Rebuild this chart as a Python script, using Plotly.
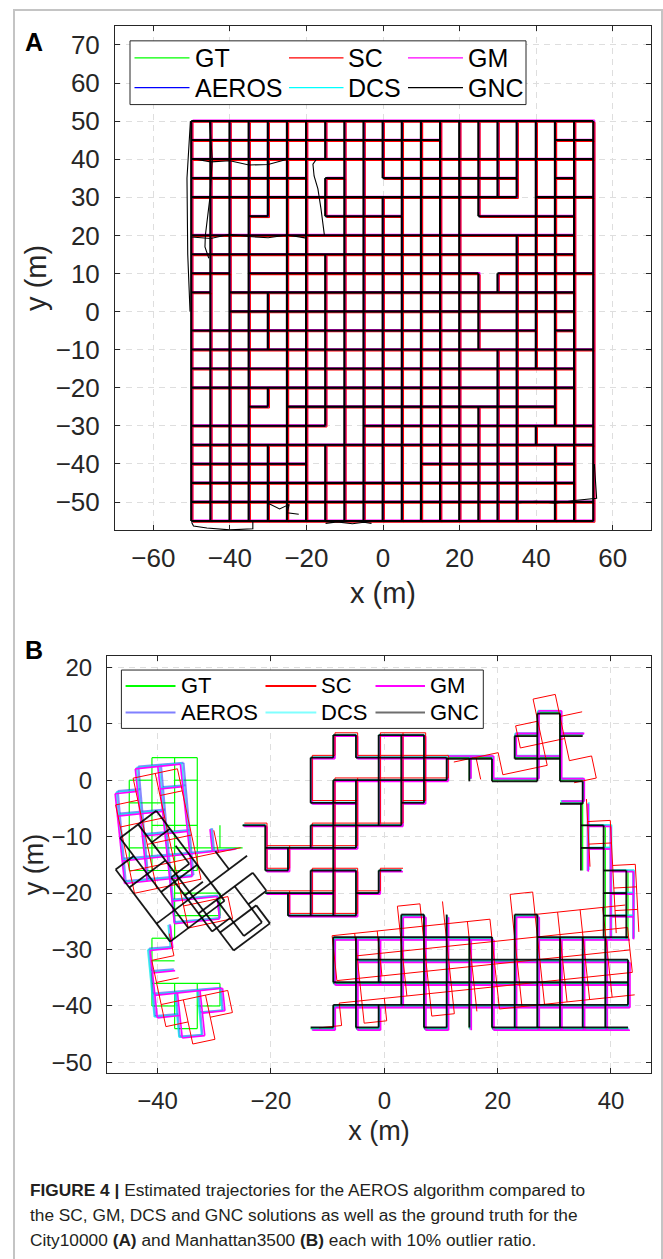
import math
import plotly.graph_objects as go

W, H = 663, 1259

# ---------------- City10000 (panel A): street runs of the route ----------------
# horizontal runs: one row per street y, each row a list of (x_start, x_end)
A_ROW_Y = [50, 45, 40, 35, 30, 25, 20, 15, 10, 5, 0,
           -5, -10, -15, -20, -25, -30, -35, -40, -45, -50, -55]
A_ROW_SPANS = [
    [(-50, 55)],
    [(-50, 15), (45, 55)],
    [(-50, 55)],
    [(-50, -20), (-15, -10), (0, 35), (45, 50)],
    [(-50, 35), (40, 55)],
    [(-35, -30), (-15, 5), (25, 50)],
    [(-50, 50)],
    [(-50, 50)],
    [(-50, -40), (-35, 25), (30, 55)],
    [(-50, -45), (-40, 50)],
    [(-40, 50)],
    [(-50, 40), (45, 50)],
    [(-50, 55)],
    [(-50, 50)],
    [(-50, 50)],
    [(-35, -30), (-25, 45)],
    [(-50, -15), (-5, 55)],
    [(-50, 55)],
    [(-50, -20), (10, 50)],
    [(-50, 50)],
    [(-50, 55)],
    [(-50, 55)],
]
# vertical runs: one column per street x, each a list of (y_start, y_end)
A_COL_X = [-50, -45, -40, -35, -30, -25, -20, -15, -10, -5, 0,
           5, 10, 15, 20, 25, 30, 35, 40, 45, 50, 55]
A_COL_SPANS = [
    [(-55, 50)],
    [(-55, 50)],
    [(-55, 50)],
    [(-55, 50)],
    [(25, 50), (-10, 5), (-25, -20), (-55, -35)],
    [(-55, 50)],
    [(-55, 50)],
    [(-55, -35), (-30, 15), (25, 35), (40, 50)],
    [(-55, 50)],
    [(-55, 50)],
    [(-55, 30), (35, 50)],
    [(-55, 50)],
    [(-55, 50)],
    [(-55, 50)],
    [(-55, 50)],
    [(-55, -25), (-10, 10), (25, 50)],
    [(-55, -10), (5, 10), (30, 50)],
    [(-55, 20), (30, 50)],
    [(-35, -30), (-15, 50)],
    [(-55, -35), (-30, 50)],
    [(-55, 50)],
    [(-55, 50)],
]
# drift of each estimate relative to the ground truth (m)
A_DRIFT_X = {"GT": 0.0, "SC": 0.35, "GM": 0.3, "AEROS": 0.12, "DCS": 0.18, "GNC": -0.1}
A_DRIFT_Y = {"GT": 0.0, "SC": -0.3, "GM": 0.25, "AEROS": -0.12, "DCS": 0.05, "GNC": 0.05}
# extra meandering pieces of the GNC estimate
A_GNC_EXTRA_X = [-17.4, -18.3, -18.0, -17.0, -16.2, -15.8, -15.3, None,
                 -45.3, -44.6, -45.2, -46.4, -46.5, -45.5, None,
                 -50, -49.5, -46, -40, -34, -34, None,
                 -30, -27, -24.5, -25, -22, None,
                 -50, -45, -40, -35, -30, -25, None,
                 -50, -45, -40, -35, -30, -25, -20, None,
                 -50.3, -51.2, -51.0, -50.4, None,
                 -15, -12, -8, -5, -3, None,
                 35, 40, 45, 50, 55.8, 55.2]
A_GNC_EXTRA_Y = [40, 38.7, 35.6, 32.2, 27, 24.3, 20, None,
                 50, 40, 30, 20, 17, 14, None,
                 -55.3, -56.3, -56.8, -57.3, -57.0, -55.2, None,
                 -50.3, -51.8, -50.6, -52.8, -53.2, None,
                 40.2, 39.3, 39.6, 38.5, 38.6, 40.0, None,
                 19.6, 19.2, 20.3, 19.7, 19.4, 20.1, 19.3, None,
                 50, 35, 15, 0, None,
                 -55.6, -55.2, -55.7, -55.3, -55.6, None,
                 -50.2, -49.8, -50.3, -49.6, -49.0, -40]

# ---------------- Manhattan3500 (panel B): ground-truth runs per area ----------------
# horizontal runs (y, x_start, x_end); vertical runs (x, y_start, y_end)
B_R1A_H = [(4, -41, -33), (0, -45, -41), (0, -37, -33), (-4, -45, -37), (-8, -41, -33),
           (-12, -45, -25), (-16, -45, -33), (-20, -37, -29), (-24, -37, -29)]
B_R1A_V = [(-45, -16, 0), (-41, -16, 4), (-37, -24, 4), (-33, -16, 4), (-29, -24, -20),
           (-29, -12, -8)]
B_R1B_H = [(-28, -41, -37), (-32, -41, -37), (-36, -41, -29), (-40, -41, -37),
           (-40, -33, -29), (-44, -37, -33)]
B_R1B_V = [(-41, -40, -28), (-37, -28, -24), (-37, -44, -36), (-33, -44, -36), (-29, -40, -36)]
B_R2_H = [(8, -9, -5), (8, -1, 7), (4, -13, -9), (4, -5, 11), (0, -9, 11), (-4, -13, -5),
          (-4, 3, 7), (-8, -25, -21), (-8, -13, 3), (-12, -21, -5), (-16, -21, -17),
          (-16, -13, -5), (-16, -1, 3), (-20, -21, -9), (-20, -5, -1), (-24, -17, -5)]
B_R2_V = [(-21, -16, -8), (-17, -16, -12), (-17, -24, -20), (-13, -4, 4), (-13, -12, -8),
          (-13, -24, -16), (-9, 4, 8), (-9, -24, 0), (-5, 4, 8), (-5, -12, 0),
          (-5, -24, -16), (-1, -8, 8), (-1, -20, -16), (3, -8, 8), (7, -4, 8), (11, 0, 4)]
B_R3A_H = [(4, 11, 19), (0, 19, 27), (4, 23, 31), (8, 23, 27), (12, 27, 31), (8, 31, 35),
           (0, 31, 35), (-4, 31, 35)]
B_R3A_V = [(15, 0, 4), (19, 0, 4), (23, 4, 8), (27, 0, 12), (31, 0, 12), (35, -4, 0)]
B_R3B_H = [(-8, 35, 39), (-12, 35, 39), (-16, 39, 43), (-20, 39, 43), (-24, 39, 43)]
B_R3B_V = [(35, -16, -4), (39, -28, -8), (43, -28, -16)]
B_R4_H = [(-24, 3, 7), (-24, 23, 27), (-28, -9, 19), (-28, 27, 43), (-32, -5, 43),
          (-36, -9, 43), (-40, -9, 43), (-44, -13, -9), (-44, -5, -1), (-44, 7, 11),
          (-44, 19, 43)]
B_R4_V = [(-9, -36, -28), (-9, -44, -40), (-5, -44, -28), (-1, -44, -40), (-1, -36, -28),
          (3, -40, -24), (7, -44, -24), (11, -44, -24), (15, -44, -28), (19, -44, -28),
          (23, -44, -24), (27, -44, -24), (31, -44, -28), (35, -44, -28), (39, -44, -28),
          (43, -40, -32)]

# estimated pose error per area: (rotation deg, pivot x, pivot y, shift x, shift y)
# area order: R1A, R1B, R2, R3A, R3B, R4
B_POSE_GT = [(0, 0, 0, 0, 0)] * 6
B_POSE_SC = [(12, -37, -10, -0.5, -2.5), (12, -35, -36, 1.5, -2.5), (0, 0, 0, 0.3, 0.4),
             (12, 27, 6, 0.5, 2.5), (3, 41, -20, 1.5, 1.0), (6, 15, -36, 0.5, 3.0)]
B_POSE_GM = [(6, -37, -10, -1.5, -1.5), (6, -35, -36, 0.5, -1.5), (0, 0, 0, 0.3, -0.2),
             (0, 0, 0, 0.3, 0.3), (0, 0, 0, 1.0, -0.2), (0, 0, 0, 0.35, -0.3)]
B_POSE_AEROS = [(5, -37, -10, -1.2, -1.2), (5, -35, -36, 0.2, -1.3), (0, 0, 0, 0.15, -0.1),
                (0, 0, 0, 0.2, 0.2), (0, 0, 0, 0.9, -0.1), (0, 0, 0, 0.2, -0.2)]
B_POSE_DCS = [(5.5, -37, -10, -1.4, -1.3), (5.5, -35, -36, 0.0, -1.4), (0, 0, 0, 0.1, 0.1),
              (0, 0, 0, 0.1, 0.35), (0, 0, 0, 1.1, 0.1), (0, 0, 0, 0.1, 0.1)]
B_POSE_GNC = [(37, -37, -10, 2, -9), (37, -35, -36, 7, 16), (0, 0, 0, 0, 0),
              (0, 0, 0, 0, -0.2), (0, 0, 0, -0.3, 0), (0, 0, 0, 0, 0.2)]

SERIES = ["GT", "SC", "GM", "AEROS", "DCS", "GNC"]
COLOR_A = {"GT": "#00ff00", "SC": "#ff0000", "GM": "#ff00ff",
           "AEROS": "#0000ff", "DCS": "#00ffff", "GNC": "#000000"}
COLOR_B = {"GT": "#00ff00", "SC": "#ff0000", "GM": "#ff00ff",
           "AEROS": "rgba(40,40,255,0.55)", "DCS": "rgba(0,235,235,0.75)",
           "GNC": "rgba(0,0,0,0.9)"}
LEGEND_B = {"GT": "#00ff00", "SC": "#ff0000", "GM": "#ff00ff",
            "AEROS": "#8080ff", "DCS": "#80ffff", "GNC": "#6e6e6e"}
WIDTH_A = {"GT": 1.1, "SC": 1.1, "GM": 1.2, "AEROS": 1.1, "DCS": 1.1, "GNC": 2.1}
WIDTH_B = {"GT": 1.2, "SC": 1.0, "GM": 1.6, "AEROS": 2.2, "DCS": 1.6, "GNC": 1.8}
DRAW_ORDER_A = ["GT", "DCS", "AEROS", "GM", "SC", "GNC"]
DRAW_ORDER_B = ["GT", "AEROS", "DCS", "GM", "SC", "GNC"]


def runs_A(dx, dy):
    xs, ys = [], []
    for y, spans in zip(A_ROW_Y, A_ROW_SPANS):
        for x0, x1 in spans:
            xs += [x0 + dx, x1 + dx, None]
            ys += [y + dy, y + dy, None]
    for x, spans in zip(A_COL_X, A_COL_SPANS):
        for y0, y1 in spans:
            xs += [x + dx, x + dx, None]
            ys += [y0 + dy, y1 + dy, None]
    return xs, ys


def place(x, y, pose):
    ang, cx, cy, sx, sy = pose
    a = math.radians(ang)
    rx, ry = x - cx, y - cy
    return (cx + rx * math.cos(a) - ry * math.sin(a) + sx,
            cy + rx * math.sin(a) + ry * math.cos(a) + sy)


B_AREAS = [(B_R1A_H, B_R1A_V), (B_R1B_H, B_R1B_V), (B_R2_H, B_R2_V),
           (B_R3A_H, B_R3A_V), (B_R3B_H, B_R3B_V), (B_R4_H, B_R4_V)]
B_POSES = {"GT": B_POSE_GT, "SC": B_POSE_SC, "GM": B_POSE_GM,
           "AEROS": B_POSE_AEROS, "DCS": B_POSE_DCS, "GNC": B_POSE_GNC}


def runs_B(poses):
    xs, ys = [], []
    for (hr, vr), pose in zip(B_AREAS, poses):
        for y, x0, x1 in hr:
            for px, py in ((x0, y), (x1, y)):
                qx, qy = place(px, py, pose)
                xs.append(qx)
                ys.append(qy)
            xs.append(None)
            ys.append(None)
        for x, y0, y1 in vr:
            for px, py in ((x, y0), (x, y1)):
                qx, qy = place(px, py, pose)
                xs.append(qx)
                ys.append(qy)
            xs.append(None)
            ys.append(None)
    return xs, ys


fig = go.Figure()

for name in DRAW_ORDER_A:
    xs, ys = runs_A(A_DRIFT_X[name], A_DRIFT_Y[name])
    width = WIDTH_A[name]
    fig.add_trace(go.Scatter(x=xs, y=ys, mode="lines", name=name, showlegend=False,
                             line=dict(color=COLOR_A[name], width=width),
                             xaxis="x", yaxis="y", hoverinfo="skip"))
    if name == "GNC":
        fig.add_trace(go.Scatter(x=A_GNC_EXTRA_X, y=A_GNC_EXTRA_Y, mode="lines", name=name,
                                 showlegend=False, line=dict(color=COLOR_A[name], width=1.1),
                                 xaxis="x", yaxis="y", hoverinfo="skip"))

for name in DRAW_ORDER_B:
    xs, ys = runs_B(B_POSES[name])
    fig.add_trace(go.Scatter(x=xs, y=ys, mode="lines", name=name, showlegend=False,
                             line=dict(color=COLOR_B[name], width=WIDTH_B[name]),
                             xaxis="x2", yaxis="y2", hoverinfo="skip"))

FONT = "Liberation Sans, Arial, sans-serif"
INK = "#262626"


def fx(px):
    return px / W


def fy(py):
    return 1 - py / H


axis_common = dict(showline=True, linecolor=INK, linewidth=1, mirror="ticks",
                   ticks="inside", ticklen=5, tickcolor=INK, zeroline=False,
                   showgrid=True, gridcolor="#dedede", gridwidth=1, griddash="6px,5px",
                   fixedrange=True)

fig.update_layout(
    width=W, height=H, margin=dict(l=0, r=0, t=0, b=0),
    paper_bgcolor="white", plot_bgcolor="white", showlegend=False,
    font=dict(family=FONT, color=INK),
    xaxis=dict(domain=[fx(115), fx(651)], range=[-70, 70], anchor="y",
               tickvals=[-60, -40, -20, 0, 20, 40, 60], ticklabelstandoff=5,
               tickfont=dict(size=26, family=FONT, color=INK),
               title=dict(text="x (m)", font=dict(size=29, family=FONT, color=INK), standoff=10),
               **axis_common),
    yaxis=dict(domain=[fy(530), fy(24)], range=[-57.3, 75], anchor="x",
               tickvals=[-50, -40, -30, -20, -10, 0, 10, 20, 30, 40, 50, 60, 70],
               ticklabelstandoff=9,
               tickfont=dict(size=26, family=FONT, color=INK),
               title=dict(text="y (m)", font=dict(size=29, family=FONT, color=INK), standoff=0),
               **axis_common),
    xaxis2=dict(domain=[fx(107), fx(651)], range=[-48.93, 47.06], anchor="y2",
                tickvals=[-40, -20, 0, 20, 40], ticklabelstandoff=6,
                tickfont=dict(size=24, family=FONT, color=INK),
                title=dict(text="x (m)", font=dict(size=27, family=FONT, color=INK), standoff=8),
                **axis_common),
    yaxis2=dict(domain=[fy(1075), fy(656.7)], range=[-51.83, 21.99], anchor="x2",
                tickvals=[-50, -40, -30, -20, -10, 0, 10, 20], ticklabelstandoff=9,
                tickfont=dict(size=24, family=FONT, color=INK),
                title=dict(text="y (m)", font=dict(size=27, family=FONT, color=INK), standoff=0),
                **axis_common),
)

shapes = []
annotations = []

# page frame
shapes.append(dict(type="rect", xref="paper", yref="paper", x0=fx(14), x1=fx(662),
                   y0=fy(1275), y1=fy(8), line=dict(color="#c4c4c4", width=2),
                   fillcolor="rgba(0,0,0,0)", layer="below"))


def legend_box(box, rows, cols_line, cols_text, colors, size, lw):
    x0, y0, x1, y1 = box
    shapes.append(dict(type="rect", xref="paper", yref="paper", x0=fx(x0), x1=fx(x1),
                       y0=fy(y1), y1=fy(y0), line=dict(color=INK, width=1),
                       fillcolor="white", layer="above"))
    for r, row_names in enumerate([SERIES[:3], SERIES[3:]]):
        yy = rows[r]
        for c, name in enumerate(row_names):
            la, lb = cols_line[c]
            shapes.append(dict(type="line", xref="paper", yref="paper", x0=fx(la), x1=fx(lb),
                               y0=fy(yy), y1=fy(yy), line=dict(color=colors[name], width=lw),
                               layer="above"))
            annotations.append(dict(xref="paper", yref="paper", x=fx(cols_text[c]), y=fy(yy),
                                    text=name, showarrow=False, xanchor="left", yanchor="middle",
                                    font=dict(size=size, family=FONT, color="black")))


legend_box((130, 39, 526, 103), [56, 86],
           [(134.5, 189.5), (289, 343.5), (408, 463)], [193, 346, 466],
           COLOR_A, 25, 1.3)
legend_box((121.4, 670.7, 483.3, 729.3), [686.7, 713.3],
           [(125.6, 175.5), (265.5, 316.3), (375.5, 425)], [179, 319, 428],
           LEGEND_B, 22, 2)

annotations.append(dict(xref="paper", yref="paper", x=fx(34), y=fy(40), text="<b>A</b>",
                        showarrow=False, xanchor="center", yanchor="middle",
                        font=dict(size=25, family=FONT, color="black")))
annotations.append(dict(xref="paper", yref="paper", x=fx(34), y=fy(651), text="<b>B</b>",
                        showarrow=False, xanchor="center", yanchor="middle",
                        font=dict(size=25, family=FONT, color="black")))

CAPTION = [
    "<b>FIGURE 4 |</b> Estimated trajectories for the AEROS algorithm compared to",
    "the SC, GM, DCS and GNC solutions as well as the ground truth for the",
    "City10000 <b>(A)</b> and Manhattan3500 <b>(B)</b> each with 10% outlier ratio.",
]
for text, yy in zip(CAPTION, [1193, 1218, 1243]):
    annotations.append(dict(xref="paper", yref="paper", x=fx(28), y=fy(yy), text=text,
                            showarrow=False, xanchor="left", yanchor="middle",
                            font=dict(size=17.3, family=FONT, color="#231f20")))

fig.update_layout(shapes=shapes, annotations=annotations)
fig.write_html("out.html", include_plotlyjs=True, config={"displayModeBar": False})
